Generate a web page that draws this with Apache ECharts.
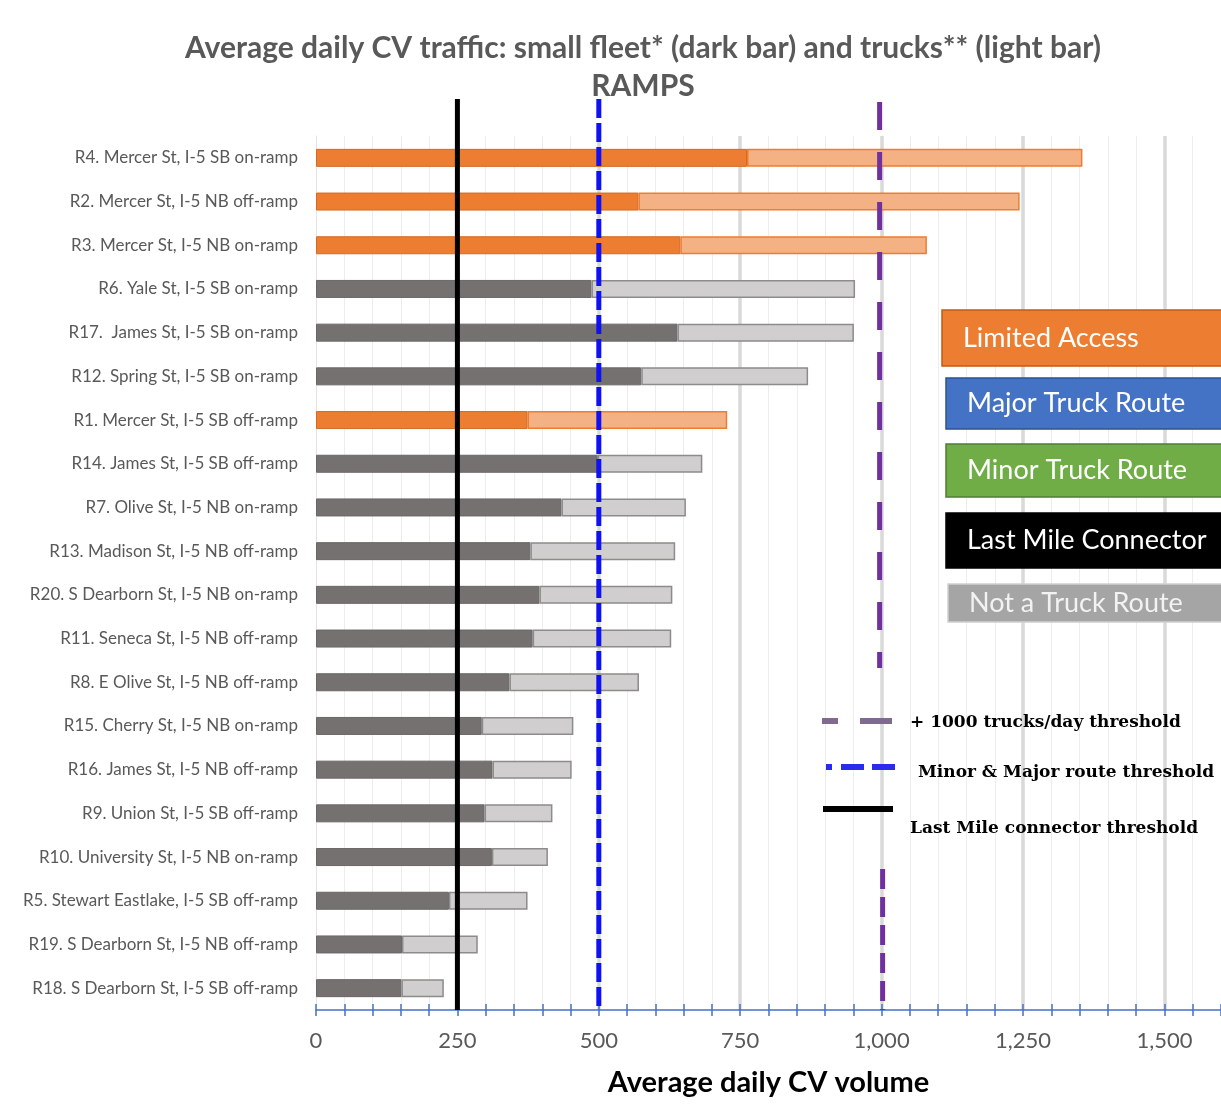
<!DOCTYPE html>
<html>
<head>
<meta charset="utf-8">
<script src="https://cdn.jsdelivr.net/npm/echarts@6/dist/echarts.min.js"></script>
<style>
  html, body { margin: 0; padding: 0; background: #ffffff; }
  #chart { width: 1221px; height: 1113px; }
</style>
</head>
<body>
<div id="chart"></div>
<script>
// Ramp locations, top to bottom
const ramps = [
  'R4. Mercer St, I-5 SB on-ramp',
  'R2. Mercer St, I-5 NB off-ramp',
  'R3. Mercer St, I-5 NB on-ramp',
  'R6. Yale St, I-5 SB on-ramp',
  'R17.  James St, I-5 SB on-ramp',
  'R12. Spring St, I-5 SB on-ramp',
  'R1. Mercer St, I-5 SB off-ramp',
  'R14. James St, I-5 SB off-ramp',
  'R7. Olive St, I-5 NB on-ramp',
  'R13. Madison St, I-5 NB off-ramp',
  'R20. S Dearborn St, I-5 NB on-ramp',
  'R11. Seneca St, I-5 NB off-ramp',
  'R8. E Olive St, I-5 NB off-ramp',
  'R15. Cherry St, I-5 NB on-ramp',
  'R16. James St, I-5 NB off-ramp',
  'R9. Union St, I-5 SB off-ramp',
  'R10. University St, I-5 NB on-ramp',
  'R5. Stewart Eastlake, I-5 SB off-ramp',
  'R19. S Dearborn St, I-5 NB off-ramp',
  'R18. S Dearborn St, I-5 SB off-ramp'
];

// Average daily small-fleet CV volume (dark segment)
const smallFleet = [762, 570, 644, 487, 639, 575, 374, 498, 434, 379, 395, 383, 342, 293, 312, 298, 311, 235, 152, 151];

// Average daily truck volume (light segment, stacked on small fleet)
const trucks = [593, 674, 436, 466, 312, 295, 353, 185, 220, 256, 235, 245, 229, 162, 140, 120, 99, 139, 134, 75];

// Route classification of each ramp
const routeClass = [
  'limited', 'limited', 'limited', 'none', 'none', 'none', 'limited', 'none', 'none', 'none',
  'none', 'none', 'none', 'none', 'none', 'none', 'none', 'none', 'none', 'none'
];

// Volume thresholds: last mile connector, minor & major route, +1000 trucks/day
const thresholdNames = ['lastMile', 'route', 'trucks1000'];
const thresholdValues = [250, 500, 1000];

// Value axis range and label step
const axisMin = 0;
const axisMax = 1600;
const axisStep = 250;

const palette = {
  limited: { dark: '#ED7D31', darkBorder: '#D56A22', light: '#F4B183', lightBorder: '#ED7D31' },
  none:    { dark: '#767171', darkBorder: '#6A6666', light: '#D0CECE', lightBorder: '#8E8B8B' }
};

const FONT = 'Lato';

const chart = echarts.init(document.getElementById('chart'), null, { renderer: 'canvas' });

const darkData = smallFleet.map((v, i) => ({
  value: v,
  itemStyle: { color: palette[routeClass[i]].dark, borderColor: palette[routeClass[i]].darkBorder, borderWidth: 1 }
}));
const lightData = trucks.map((v, i) => ({
  value: v,
  itemStyle: { color: palette[routeClass[i]].light, borderColor: palette[routeClass[i]].lightBorder, borderWidth: 1.5 }
}));

// Threshold line styles
const thresholdStyle = {
  lastMile:   { stroke: '#000000', lineWidth: 5, lineDash: null },
  route:      { stroke: '#1010F5', lineWidth: 5, lineDash: [19, 5] },
  trucks1000: { stroke: '#7030A0', lineWidth: 5, lineDash: [28, 22] }
};

function renderThreshold(params, api) {
  const name = thresholdNames[params.dataIndex];
  const x = api.coord([api.value(0), 0])[0];
  const cs = params.coordSys;
  const top = cs.y - 37;
  const bottom = cs.y + cs.height;
  const st = thresholdStyle[name];
  const style = { stroke: st.stroke, lineWidth: st.lineWidth, lineDash: st.lineDash };
  if (name === 'trucks1000') {
    // the +1000 line is interrupted where the threshold key sits
    return {
      type: 'group',
      children: [
        { type: 'line', shape: { x1: x - 2, y1: top + 3, x2: x - 2, y2: cs.y + 532 }, style: style },
        { type: 'line', shape: { x1: x + 1, y1: cs.y + 733, x2: x + 1, y2: bottom }, style: Object.assign({}, style, { lineDash: [20, 8] }) }
      ]
    };
  }
  return { type: 'line', shape: { x1: x, y1: top, x2: x, y2: bottom }, style: style };
}

function keyBox(x, y, h, fill, stroke, label, textColor) {
  return {
    type: 'group',
    z: 100,
    children: [
      { type: 'rect', z: 100, shape: { x: x, y: y, width: 320, height: h },
        style: { fill: fill, stroke: stroke, lineWidth: 1.5 } },
      { type: 'text', z: 101, x: x + 21, y: y + h / 2,
        style: { text: label, fill: textColor, font: '27px ' + FONT, textVerticalAlign: 'middle' } }
    ]
  };
}

const serifBold = 'bold 17px "DejaVu Serif"';

function keyLine(x1, x2, y, color) {
  return { type: 'line', z: 100, shape: { x1: x1, y1: y, x2: x2, y2: y }, style: { stroke: color, lineWidth: 6 } };
}
function keyText(x, y, text) {
  return { type: 'text', z: 101, x: x, y: y, style: { text: text, fill: '#000000', font: serifBold, textVerticalAlign: 'middle' } };
}

const option = {
  animation: false,
  backgroundColor: '#ffffff',
  title: {
    text: 'Average daily CV traffic: small fleet* (dark bar) and trucks** (light bar)\nRAMPS',
    left: 643,
    top: 29,
    padding: 0,
    textAlign: 'center',
    textStyle: { fontFamily: FONT, fontWeight: 'bold', fontSize: 30, lineHeight: 38, color: '#595959' }
  },
  grid: { left: 316, right: -2, top: 136, bottom: 103, containLabel: false },
  xAxis: [
    {
      type: 'value', min: axisMin, max: axisMax, interval: axisStep,
      name: 'Average daily CV volume', nameLocation: 'middle', nameGap: 58,
      nameTextStyle: { fontFamily: FONT, fontWeight: 'bold', fontSize: 29, color: '#000000' },
      axisLine: { show: true, lineStyle: { color: '#4472C4', width: 1.5 } },
      axisTick: { show: true, length: 6, lineStyle: { color: '#4472C4', width: 1.5 } },
      minorTick: { show: true, splitNumber: 5, length: 6, lineStyle: { color: '#4472C4', width: 1.5 } },
      axisLabel: {
        margin: 20, fontFamily: FONT, fontSize: 22, color: '#595959', showMaxLabel: false,
        formatter: v => v.toLocaleString('en-US')
      },
      splitLine: { show: true, showMinLine: false, showMaxLine: false, lineStyle: { color: '#D9D9D9', width: 3.5 } },
      minorSplitLine: { show: true, lineStyle: { color: '#EDEDED', width: 1 } }
    },
    {
      // mirrored ticks so that marks cross the axis line
      type: 'value', min: axisMin, max: axisMax, interval: axisStep, position: 'bottom',
      axisLine: { show: false },
      axisTick: { show: true, inside: true, length: 6, lineStyle: { color: '#4472C4', width: 1.5 } },
      minorTick: { show: true, splitNumber: 5, length: 6, lineStyle: { color: '#4472C4', width: 1.5 } },
      axisLabel: { show: false },
      splitLine: { show: false }
    }
  ],
  yAxis: {
    type: 'category', data: ramps, inverse: true,
    axisLine: { show: true, lineStyle: { color: '#E3E3E3', width: 1 } },
    axisTick: { show: false },
    axisLabel: { margin: 18, fontFamily: FONT, fontSize: 17, color: '#595959' }
  },
  series: [
    { name: 'Small fleet', type: 'bar', stack: 'cv', barWidth: 18, data: darkData, z: 3 },
    { name: 'Trucks', type: 'bar', stack: 'cv', barWidth: 18, data: lightData, z: 3 },
    {
      name: 'Thresholds', type: 'custom', z: 5, clip: false,
      data: thresholdValues.map((v, i) => [v, i]),
      encode: { x: 0, y: 1 },
      renderItem: renderThreshold
    }
  ],
  graphic: [
    keyBox(942, 310, 56, '#ED7D31', '#C55A11', 'Limited Access', '#ffffff'),
    keyBox(946, 378, 51, '#4472C4', '#2F528F', 'Major Truck Route', '#ffffff'),
    keyBox(946, 444, 53, '#70AD47', '#507E32', 'Minor Truck Route', '#ffffff'),
    keyBox(946, 513, 55, '#000000', '#000000', 'Last Mile Connector', '#ffffff'),
    keyBox(948, 584, 38, '#A5A5A5', '#CFCFCF', 'Not a Truck Route', '#F2F2F2'),
    // threshold key
    keyLine(822, 838, 721, '#806A90'),
    keyLine(860, 892, 721, '#806A90'),
    keyLine(826, 832, 767, '#2B2BF0'),
    keyLine(841, 864, 767, '#2B2BF0'),
    keyLine(872, 895, 767, '#2B2BF0'),
    keyLine(823, 893, 809, '#000000'),
    keyText(910, 723, '+ 1000 trucks/day threshold'),
    keyText(918, 773, 'Minor & Major route threshold'),
    keyText(910, 829, 'Last Mile connector threshold')
  ]
};

chart.setOption(option);
</script>
</body>
</html>
